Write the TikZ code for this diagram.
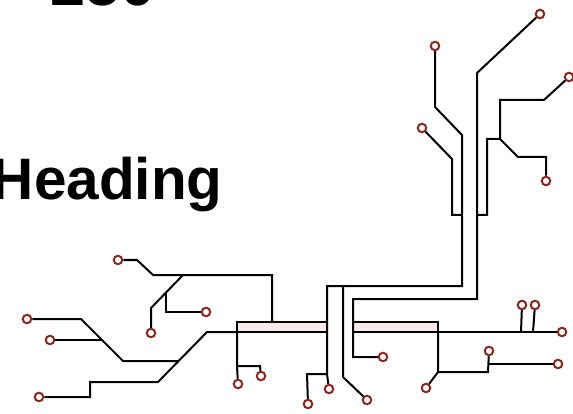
\documentclass[tikz,border=0pt]{standalone}
\usepackage{fontspec}
\setmainfont{Liberation Sans}
\definecolor{padred}{RGB}{140,38,28}
\definecolor{barpink}{RGB}{251,233,233}
\begin{document}
\begin{tikzpicture}[x=1pt,y=-1pt,
  trace/.style={line width=2pt, draw=black},
  pad/.style={circle, draw=padred, fill=white, line width=2pt, minimum size=8.5pt, inner sep=0pt},
  bus/.style={draw=black, fill=barpink, line width=2pt, inner sep=0pt, outer sep=0pt, anchor=north west, minimum height=10pt},
  bigtext/.style={anchor=base west, inner sep=0pt, font=\bfseries\fontsize{58.5}{60}\selectfont}]
\fill[white] (0,0) rectangle (573,414);
\useasboundingbox (0,0) rectangle (573,414);

% texts
\node[bigtext, font=\bfseries\fontsize{63}{64}\selectfont] (num) at (50,6) {250};
\node[bigtext] (heading) at (-8.3,200) {Heading};

% bus bars
\node[bus, minimum width=90pt] (busL) at (237,322) {};
\node[bus, minimum width=85pt] (busR) at (353,322) {};

% pads
\node[pad] (p1) at (27,319) {};
\node[pad] (p2) at (50,340) {};
\node[pad] (p3) at (39,397) {};
\node[pad] (p4) at (118,260) {};
\node[pad] (p5) at (151,333) {};
\node[pad] (p6) at (206,312) {};
\node[pad] (p7) at (238,384) {};
\node[pad] (p8) at (261,376) {};
\node[pad] (p9) at (308,404) {};
\node[pad] (p10) at (329,389) {};
\node[pad] (p11) at (367,400) {};
\node[pad] (p12) at (383,357) {};
\node[pad] (p13) at (426,388) {};
\node[pad] (p14) at (489,351) {};
\node[pad] (p15) at (558,364) {};
\node[pad] (p16) at (522,305) {};
\node[pad] (p17) at (535,305) {};
\node[pad] (p18) at (562,332) {};
\node[pad] (p19) at (435,46) {};
\node[pad] (p20) at (422,128) {};
\node[pad] (p21) at (540,14) {};
\node[pad] (p22) at (569,77) {};
\node[pad] (p23) at (546,181) {};

% junctions
\coordinate (jA) at (178,361);
\coordinate (jB) at (183,275);
\coordinate (jC) at (166,292);
\coordinate (jD) at (237,366);
\coordinate (jE) at (327,374);
\coordinate (jF) at (343,286);
\coordinate (jG) at (462,215);
\coordinate (jH) at (477,215);
\coordinate (jI) at (500,139);
\coordinate (jJ) at (438,372);
\coordinate (jK) at (488,364);
\coordinate (jL) at (521,332);
\coordinate (jM) at (533,332);
\coordinate (jN) at (102,340);

% left traces
\draw[trace] (p1) -- (81,319) -- (123,361) -- (jA);
\draw[trace] (p2) -- (jN);
\draw[trace] (busL.south west) -- (207,332) -- (158,382) -- (90,382) -- (90,397) -- (p3);
\draw[trace] (p4) -- (137,260) -- (153,275) -- (272,275) -- (272,322);
\draw[trace] (jB) -- (151,308) -- (p5);
\draw[trace] (jC) -- (166,312) -- (p6);
\draw[trace] (busL.south west) -- (jD) -- (p7);
\draw[trace] (jD) -- (260,366) -- (p8);

% central traces
\draw[trace] (p19) -- (435,107) -- (462,135) -- (462,286) -- (327,286) -- (jE) -- (p10);
\draw[trace] (jE) -- (307,374) -- (p9);
\draw[trace] (jF) -- (343,377) -- (p11);
\draw[trace] (p20) -- (452,159) -- (452,215) -- (jG);
\draw[trace] (p21) -- (477,73) -- (477,299) -- (353,299) -- (353,357) -- (p12);
\draw[trace] (jH) -- (487,215) -- (487,139) -- (jI) -- (500,100) -- (544,100) -- (p22);
\draw[trace] (jI) -- (518,157) -- (546,157) -- (p23);

% right traces
\draw[trace] (busR.south east) -- (jJ) -- (p13);
\draw[trace] (jJ) -- (488,372) -- (p14);
\draw[trace] (jK) -- (p15);
\draw[trace] (busR.south east) -- (p18);
\draw[trace] (jL) -- (p16);
\draw[trace] (jM) -- (p17);
\end{tikzpicture}
\end{document}
